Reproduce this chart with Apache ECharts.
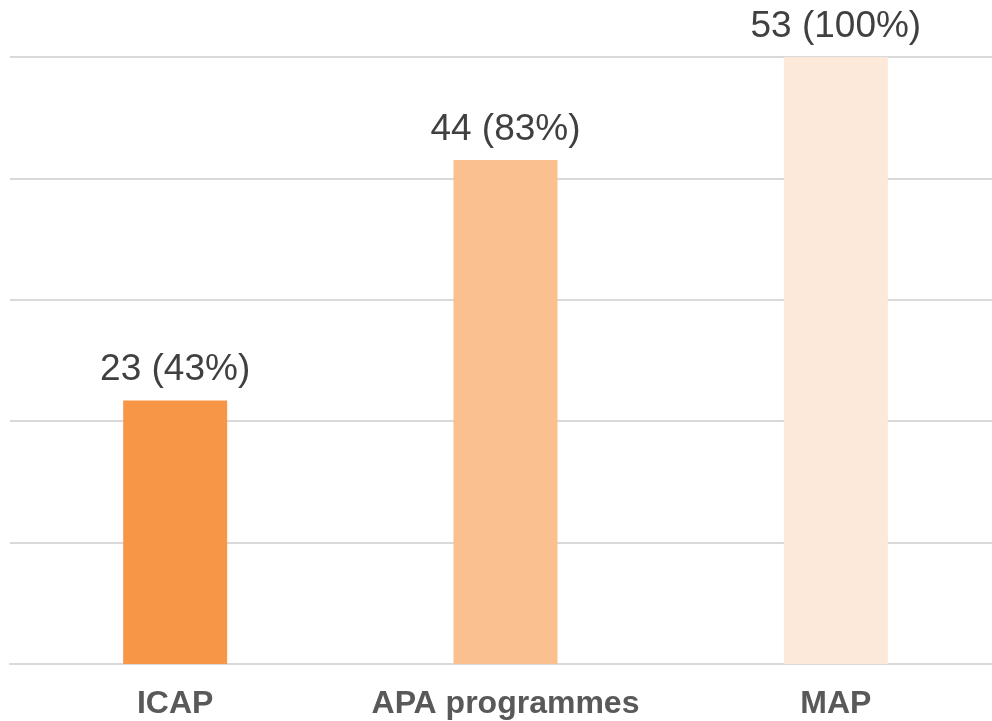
<!DOCTYPE html>
<html lang="en">
<head>
    <meta charset="UTF-8">
    <title>Programmes</title>
    <style>
        body {
            margin: 0;
            padding: 0;
            background: #ffffff;
            overflow: hidden;
        }
        /* the plot runs past the right edge of the window, so the box is a bit wider */
        #chart {
            width: 1001px;
            height: 721px;
        }
    </style>
</head>
<body>
<div id="chart"></div>
<script src="https://cdn.jsdelivr.net/npm/echarts@6/dist/echarts.min.js"></script>
<script>
    const categories = ["ICAP", "APA programmes", "MAP"];
    const counts = [23, 44, 53];
    const shares = [43, 83, 100];
    const barColors = ["#F79646", "#FAC090", "#FDE9D9"];

    const chart = echarts.init(document.getElementById("chart"));

    const option = {
        backgroundColor: "#ffffff",
        animation: false,
        grid: {
            left: 10,
            top: 57,
            right: 0,
            height: 607,
        },
        xAxis: {
            type: "category",
            data: categories,
            axisLine: {
                show: true,
                lineStyle: {color: "#d9d9d9", width: 2},
            },
            axisTick: {show: false},
            axisLabel: {
                interval: 0,
                color: "#595959",
                fontFamily: "Liberation Sans, Arial, sans-serif",
                fontWeight: "bold",
                fontSize: 32,
                margin: 24,
            },
        },
        yAxis: {
            type: "value",
            min: 0,
            max: 53,
            interval: 10.6,
            axisLine: {show: false},
            axisTick: {show: false},
            axisLabel: {show: false},
            splitLine: {
                lineStyle: {color: "#d9d9d9", width: 2},
            },
        },
        series: [
            {
                type: "bar",
                barWidth: 104,
                data: counts.map((v, i) => ({
                    value: v,
                    itemStyle: {color: barColors[i]},
                })),
                label: {
                    show: true,
                    position: "top",
                    distance: 12,
                    color: "#404040",
                    fontFamily: "Liberation Sans, Arial, sans-serif",
                    fontSize: 37,
                    formatter: (p) => p.value + " (" + shares[p.dataIndex] + "%)",
                },
            },
        ],
    };

    chart.setOption(option);
</script>
</body>
</html>
